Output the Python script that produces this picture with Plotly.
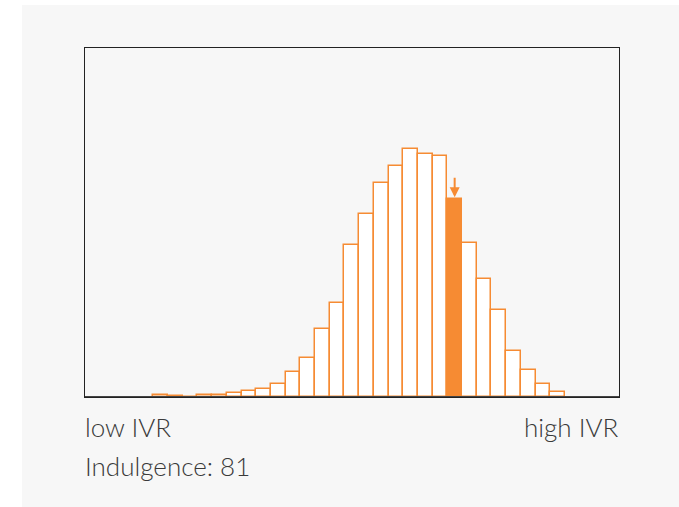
import plotly.graph_objects as go

# Histogram of IVR (indulgence vs. restraint) scores, one value per bin
bin_index = list(range(28))
counts = [1.7, 1.5, 0, 2.0, 2.3, 3.7, 5.7, 7.7, 12.7, 24.7,
          39.0, 67.7, 94.0, 151.7, 183.0, 214.0, 231.0, 248.0, 242.7, 240.7,
          197.7, 154.3, 118.3, 87.0, 46.0, 27.0, 12.7, 5.3]
highlight_bin = 20
score_label = "Indulgence: 81"
low_label = "low IVR"
high_label = "high IVR"

ORANGE = "#f68b33"
BG = "#f7f7f7"
W, H = 679, 507
L, R, T, B = 85, 60, 48, 110
PW, PH = W - L - R, H - T - B

fills = [ORANGE if i == highlight_bin else "white" for i in bin_index]

fig = go.Figure(go.Bar(
    x=bin_index, y=counts, width=1,
    marker=dict(color=fills, line=dict(color=ORANGE, width=1.5)),
    hoverinfo="skip",
))

def px_x(p):
    return (p - L) / PW

def px_y(p):
    return (H - B - p) / PH

shapes = [
    # light grey card behind the chart
    dict(type="rect", xref="paper", yref="paper", layer="below",
         x0=px_x(22), x1=px_x(W + 2), y0=px_y(H + 2), y1=px_y(5),
         fillcolor=BG, line=dict(width=0)),
    # heavier baseline
    dict(type="line", xref="paper", yref="y", x0=0, x1=1, y0=0, y1=0,
         line=dict(color="#444444", width=2)),
]

font = dict(family="Lato", size=26, color="#3a3a3a", weight=300)
annotations = [
    dict(xref="x", yref="y", x=highlight_bin, y=counts[highlight_bin],
         ax=0, ay=-23, showarrow=True, arrowhead=2, arrowsize=1,
         arrowwidth=2, arrowcolor=ORANGE, standoff=2, text=""),
    dict(xref="paper", yref="paper", x=0, y=px_y(427), xanchor="left",
         yanchor="middle", xshift=-2, text=low_label, showarrow=False,
         font=font),
    dict(xref="paper", yref="paper", x=1, y=px_y(427), xanchor="right",
         yanchor="middle", xshift=2, text=high_label, showarrow=False,
         font=font),
    dict(xref="paper", yref="paper", x=0, y=px_y(466), xanchor="left",
         yanchor="middle", xshift=-2, text=score_label, showarrow=False,
         font=font),
]

fig.update_layout(
    width=W, height=H,
    margin=dict(l=L, r=R, t=T, b=B),
    paper_bgcolor="white", plot_bgcolor=BG,
    bargap=0, showlegend=False,
    shapes=shapes, annotations=annotations,
    xaxis=dict(range=[-5.15, 31.18], showticklabels=False, ticks="",
               showgrid=False, zeroline=False, showline=True, mirror=True,
               linecolor="#222222", linewidth=1),
    yaxis=dict(range=[0, PH], showticklabels=False, ticks="",
               showgrid=False, zeroline=False, showline=True, mirror=True,
               linecolor="#222222", linewidth=1),
)

fig.write_html("out.html")
